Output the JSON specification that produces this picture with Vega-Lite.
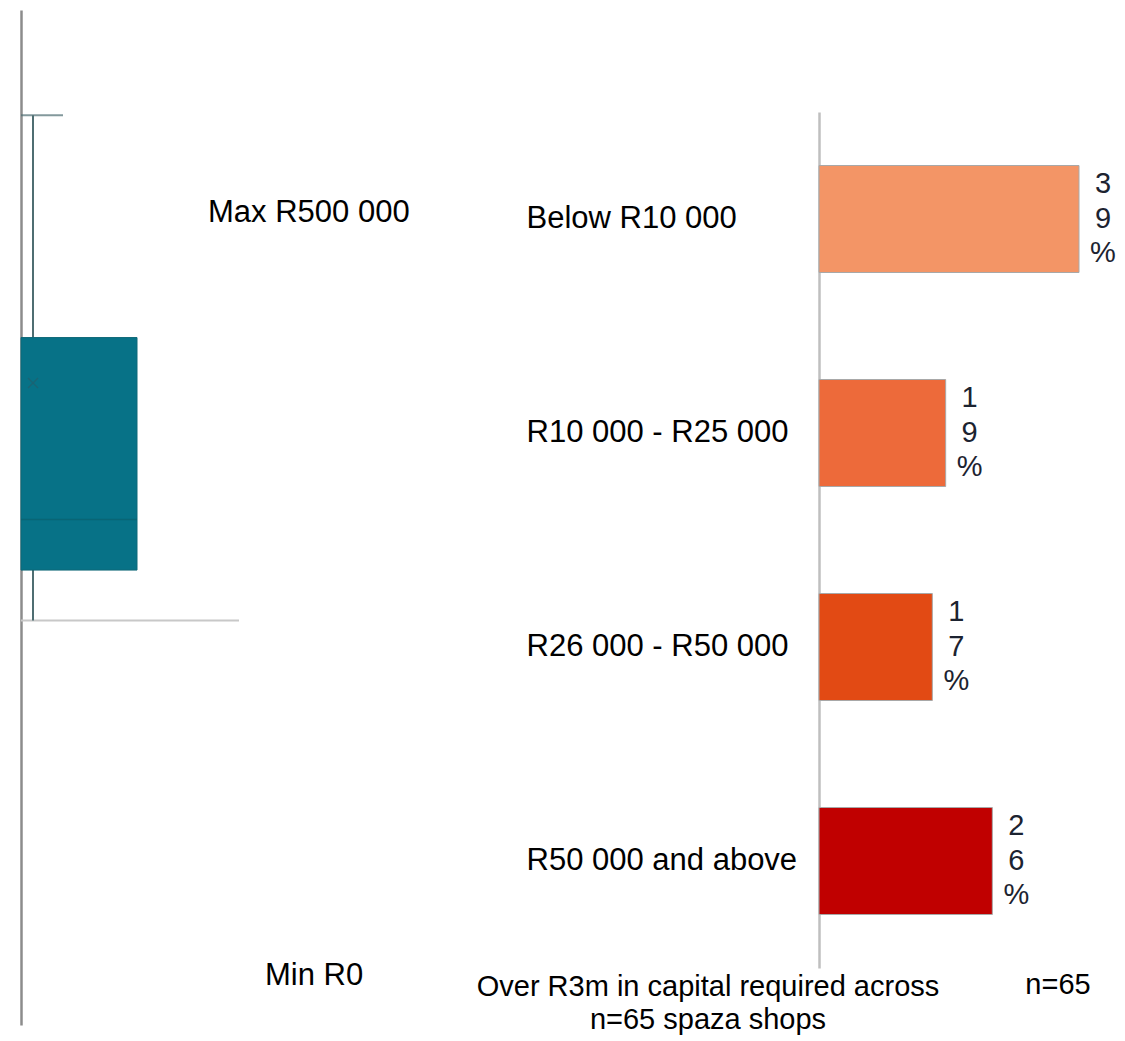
{
  "$schema": "https://vega.github.io/schema/vega-lite/v6.json",
  "background": "white",
  "padding": {"left": 20, "top": 10, "right": 0, "bottom": 0},
  "bounds": "flush",
  "spacing": 580,
  "config": {"view": {"stroke": null}, "font": "Liberation Sans"},
  "hconcat": [
    {
      "width": 218,
      "height": 1015,
      "data": {"values": [{"cat": "Capital", "min": 0, "q1": 50000, "median": 100000, "q3": 280000, "max": 500000, "mean": 235000}]},
      "layer": [
        {
          "mark": {"type": "rule", "color": "#c8c8c8", "strokeWidth": 2},
          "encoding": {
            "y": {"datum": 0, "type": "quantitative", "scale": {"domain": [-400000, 604000], "nice": false, "zero": false},
              "axis": {"domain": true, "domainColor": "#8c8c8c", "domainWidth": 2.5, "ticks": false, "labels": false, "grid": false, "title": null}}
          }
        },
        {
          "mark": {"type": "rule", "color": "#4f6e72", "strokeWidth": 2, "xOffset": -97},
          "encoding": {
            "x": {"field": "cat", "type": "nominal", "scale": {"paddingInner": 0, "paddingOuter": 0}, "axis": null},
            "y": {"field": "min", "type": "quantitative", "title": null},
            "y2": {"field": "max"}
          }
        },
        {
          "mark": {"type": "tick", "color": "#4f6e72", "size": 42, "thickness": 2, "xOffset": -88, "orient": "horizontal"},
          "encoding": {
            "x": {"field": "cat", "type": "nominal", "axis": null},
            "y": {"field": "max", "type": "quantitative", "title": null}
          }
        },
        {
          "mark": {"type": "bar", "color": "#077287", "stroke": "#0f6878", "strokeWidth": 1, "width": 116, "xOffset": -51},
          "encoding": {
            "x": {"field": "cat", "type": "nominal", "axis": null},
            "y": {"field": "q3", "type": "quantitative", "title": null},
            "y2": {"field": "q1"}
          }
        },
        {
          "mark": {"type": "tick", "color": "#0a5f6e", "size": 116, "thickness": 1.5, "xOffset": -51, "orient": "horizontal"},
          "encoding": {
            "x": {"field": "cat", "type": "nominal", "axis": null},
            "y": {"field": "median", "type": "quantitative", "title": null}
          }
        },
        {
          "mark": {"type": "point", "shape": "M-1,-1L1,1M-1,1L1,-1", "size": 100, "filled": false, "color": "#245e6b", "strokeWidth": 1.2, "xOffset": -97},
          "encoding": {
            "x": {"field": "cat", "type": "nominal", "axis": null},
            "y": {"field": "mean", "type": "quantitative", "title": null}
          }
        },
        {
          "mark": {"type": "text", "text": "Max R500 000", "align": "left", "baseline": "alphabetic", "fontSize": 31, "color": "#000000", "xOffset": 78, "yOffset": 107},
          "encoding": {
            "x": {"field": "cat", "type": "nominal", "axis": null},
            "y": {"field": "max", "type": "quantitative", "title": null}
          }
        },
        {
          "mark": {"type": "text", "text": "Min R0", "align": "left", "baseline": "alphabetic", "fontSize": 31, "color": "#000000", "xOffset": 135, "yOffset": 364},
          "encoding": {
            "x": {"field": "cat", "type": "nominal", "axis": null},
            "y": {"field": "min", "type": "quantitative", "title": null}
          }
        }
      ]
    },
    {
      "width": 300,
      "height": 1015,
      "layer": [
        {
          "data": {"values": [
            {"band": "Below R10 000", "pct": 39},
            {"band": "R10 000 - R25 000", "pct": 19},
            {"band": "R26 000 - R50 000", "pct": 17},
            {"band": "R50 000 and above", "pct": 26}
          ]},
          "mark": {"type": "bar", "stroke": "#a8a8a8", "strokeWidth": 1},
          "encoding": {
            "y": {"field": "band", "type": "nominal", "sort": null,
              "scale": {"range": [102, 958], "paddingInner": 0.5, "paddingOuter": 0.25},
              "axis": {"domain": true, "domainColor": "#bfbfbf", "domainWidth": 2.5, "ticks": false, "grid": false, "title": null,
                "labelFontSize": 31, "labelColor": "#000000", "labelAlign": "left", "labelBaseline": "middle", "labelPadding": 293, "labelLimit": 0, "labelFont": "Liberation Sans"}},
            "x": {"field": "pct", "type": "quantitative", "scale": {"domain": [0, 45], "nice": false}, "axis": null},
            "color": {"field": "band", "type": "nominal", "sort": null, "legend": null,
              "scale": {"domain": ["Below R10 000", "R10 000 - R25 000", "R26 000 - R50 000", "R50 000 and above"],
                "range": ["#f39566", "#ed6a3a", "#e24a14", "#c00000"]}}
          }
        },
        {
          "data": {"values": [
            {"band": "Below R10 000", "pct": 39},
            {"band": "R10 000 - R25 000", "pct": 19},
            {"band": "R26 000 - R50 000", "pct": 17},
            {"band": "R50 000 and above", "pct": 26}
          ]},
          "transform": [{"calculate": "split(datum.pct + '%', '')", "as": "lbl"}],
          "mark": {"type": "text", "fontSize": 29, "align": "center", "baseline": "middle", "dx": 24, "dy": -35, "lineHeight": 34.5, "color": "#1c2330"},
          "encoding": {
            "y": {"field": "band", "type": "nominal", "sort": null},
            "x": {"field": "pct", "type": "quantitative"},
            "text": {"field": "lbl"}
          }
        },
        {
          "data": {"values": [{"note": ["Over R3m in capital required across", "n=65 spaza shops"]}]},
          "mark": {"type": "text", "fontSize": 29, "lineHeight": 33, "align": "center", "baseline": "middle", "xOffset": -111, "yOffset": 126, "color": "#000000"},
          "encoding": {
            "x": {"datum": 0, "type": "quantitative"},
            "y": {"datum": "R50 000 and above", "type": "nominal"},
            "text": {"field": "note"}
          }
        },
        {
          "data": {"values": [{"note": "n=65"}]},
          "mark": {"type": "text", "fontSize": 29, "align": "center", "baseline": "middle", "xOffset": 239, "yOffset": 124, "color": "#000000"},
          "encoding": {
            "x": {"datum": 0, "type": "quantitative"},
            "y": {"datum": "R50 000 and above", "type": "nominal"},
            "text": {"field": "note"}
          }
        }
      ]
    }
  ]
}
